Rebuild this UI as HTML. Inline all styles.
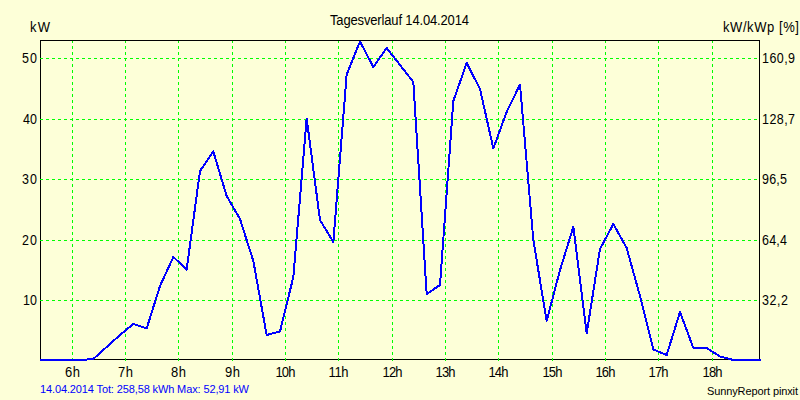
<!DOCTYPE html>
<html><head><meta charset="utf-8"><style>
html,body{margin:0;padding:0;background:#FDFFD8;}
svg{display:block;}
</style></head><body>
<svg width="800" height="400" viewBox="0 0 800 400">
<rect x="0" y="0" width="800" height="400" fill="#FDFFD8"/>
<rect x="40.5" y="40.5" width="719" height="319" fill="none" stroke="#000" stroke-width="1" shape-rendering="crispEdges"/>
<g stroke="#00FF00" stroke-width="1" stroke-dasharray="3 3" shape-rendering="crispEdges"><line x1="40" y1="58.5" x2="759" y2="58.5"/><line x1="40" y1="119.5" x2="759" y2="119.5"/><line x1="40" y1="179.5" x2="759" y2="179.5"/><line x1="40" y1="240.5" x2="759" y2="240.5"/><line x1="40" y1="300.5" x2="759" y2="300.5"/><line x1="72.5" y1="361" x2="72.5" y2="41"/><line x1="125.5" y1="361" x2="125.5" y2="41"/><line x1="178.5" y1="361" x2="178.5" y2="41"/><line x1="232.5" y1="361" x2="232.5" y2="41"/><line x1="285.5" y1="361" x2="285.5" y2="41"/><line x1="338.5" y1="361" x2="338.5" y2="41"/><line x1="392.5" y1="361" x2="392.5" y2="41"/><line x1="445.5" y1="361" x2="445.5" y2="41"/><line x1="498.5" y1="361" x2="498.5" y2="41"/><line x1="552.5" y1="361" x2="552.5" y2="41"/><line x1="605.5" y1="361" x2="605.5" y2="41"/><line x1="658.5" y1="361" x2="658.5" y2="41"/><line x1="712.5" y1="361" x2="712.5" y2="41"/></g>
<polyline points="40.00,360 53.33,360 66.67,360 80.00,360 93.33,359 106.67,347 120.00,335 133.33,324 146.67,328.5 160.00,286 173.33,257 186.67,269.5 200.00,171 213.33,151.5 226.67,196 240.00,219 253.33,261 266.67,335 280.00,331.5 293.33,277 306.67,118.5 320.00,220 333.33,242 346.67,74.5 360.00,41.5 373.33,67 386.67,48 400.00,65 413.33,82 426.67,294 440.00,285 453.33,101 466.67,63 480.00,89 493.33,148.5 506.67,112 520.00,84.5 533.33,240 546.67,321 560.00,270 573.33,227 586.67,333.5 600.00,249 613.33,224 626.67,248 640.00,296 653.33,349.5 666.67,355 680.00,312 693.33,348 706.67,348 720.00,356.5 733.33,360 746.67,360 761.00,360" fill="none" stroke="#0000FF" stroke-width="2" stroke-linejoin="round" stroke-linecap="butt" shape-rendering="crispEdges"/>
<g font-family='"Liberation Sans", sans-serif'>
<text x="330.00" y="25" font-size="13" text-anchor="start" fill="#000" textLength="139.00" lengthAdjust="spacing" transform="translate(0,25) scale(1,1.08) translate(0,-25)">Tagesverlauf 14.04.2014</text>
<text x="30.00" y="32" font-size="13" text-anchor="start" fill="#000" textLength="20.00" lengthAdjust="spacing" transform="translate(0,32) scale(1,1.08) translate(0,-32)">kW</text>
<text x="723.00" y="32" font-size="13" text-anchor="start" fill="#000" textLength="76.00" lengthAdjust="spacing" transform="translate(0,32) scale(1,1.08) translate(0,-32)">kW/kWp [%]</text>
<text x="22.00" y="63" font-size="12.5" text-anchor="start" fill="#000" textLength="15.00" lengthAdjust="spacing" transform="translate(0,63) scale(1,1.12) translate(0,-63)">50</text>
<text x="23.00" y="124" font-size="12.5" text-anchor="start" fill="#000" textLength="14.00" lengthAdjust="spacing" transform="translate(0,124) scale(1,1.12) translate(0,-124)">40</text>
<text x="22.00" y="184" font-size="12.5" text-anchor="start" fill="#000" textLength="15.00" lengthAdjust="spacing" transform="translate(0,184) scale(1,1.12) translate(0,-184)">30</text>
<text x="22.00" y="245" font-size="12.5" text-anchor="start" fill="#000" textLength="15.00" lengthAdjust="spacing" transform="translate(0,245) scale(1,1.12) translate(0,-245)">20</text>
<text x="23.00" y="305" font-size="12.5" text-anchor="start" fill="#000" textLength="14.00" lengthAdjust="spacing" transform="translate(0,305) scale(1,1.12) translate(0,-305)">10</text>
<text x="762.00" y="63" font-size="12.5" text-anchor="start" fill="#000" textLength="33.00" lengthAdjust="spacing" transform="translate(0,63) scale(1,1.12) translate(0,-63)">160,9</text>
<text x="762.00" y="124" font-size="12.5" text-anchor="start" fill="#000" textLength="33.00" lengthAdjust="spacing" transform="translate(0,124) scale(1,1.12) translate(0,-124)">128,7</text>
<text x="762.00" y="184" font-size="12.5" text-anchor="start" fill="#000" textLength="25.00" lengthAdjust="spacing" transform="translate(0,184) scale(1,1.12) translate(0,-184)">96,5</text>
<text x="762.00" y="245" font-size="12.5" text-anchor="start" fill="#000" textLength="25.00" lengthAdjust="spacing" transform="translate(0,245) scale(1,1.12) translate(0,-245)">64,4</text>
<text x="762.00" y="305" font-size="12.5" text-anchor="start" fill="#000" textLength="26.00" lengthAdjust="spacing" transform="translate(0,305) scale(1,1.12) translate(0,-305)">32,2</text>
<text x="72.50" y="377" font-size="13" text-anchor="middle" fill="#000" textLength="15.00" lengthAdjust="spacing" transform="translate(0,377) scale(1,1.08) translate(0,-377)">6h</text>
<text x="125.50" y="377" font-size="13" text-anchor="middle" fill="#000" textLength="15.00" lengthAdjust="spacing" transform="translate(0,377) scale(1,1.08) translate(0,-377)">7h</text>
<text x="178.50" y="377" font-size="13" text-anchor="middle" fill="#000" textLength="15.00" lengthAdjust="spacing" transform="translate(0,377) scale(1,1.08) translate(0,-377)">8h</text>
<text x="232.50" y="377" font-size="13" text-anchor="middle" fill="#000" textLength="15.00" lengthAdjust="spacing" transform="translate(0,377) scale(1,1.08) translate(0,-377)">9h</text>
<text x="285.50" y="377" font-size="13" text-anchor="middle" fill="#000" textLength="20.00" lengthAdjust="spacing" transform="translate(0,377) scale(1,1.08) translate(0,-377)">10h</text>
<text x="338.50" y="377" font-size="13" text-anchor="middle" fill="#000" textLength="20.00" lengthAdjust="spacing" transform="translate(0,377) scale(1,1.08) translate(0,-377)">11h</text>
<text x="392.50" y="377" font-size="13" text-anchor="middle" fill="#000" textLength="20.00" lengthAdjust="spacing" transform="translate(0,377) scale(1,1.08) translate(0,-377)">12h</text>
<text x="445.50" y="377" font-size="13" text-anchor="middle" fill="#000" textLength="20.00" lengthAdjust="spacing" transform="translate(0,377) scale(1,1.08) translate(0,-377)">13h</text>
<text x="498.50" y="377" font-size="13" text-anchor="middle" fill="#000" textLength="20.00" lengthAdjust="spacing" transform="translate(0,377) scale(1,1.08) translate(0,-377)">14h</text>
<text x="552.50" y="377" font-size="13" text-anchor="middle" fill="#000" textLength="20.00" lengthAdjust="spacing" transform="translate(0,377) scale(1,1.08) translate(0,-377)">15h</text>
<text x="605.50" y="377" font-size="13" text-anchor="middle" fill="#000" textLength="20.00" lengthAdjust="spacing" transform="translate(0,377) scale(1,1.08) translate(0,-377)">16h</text>
<text x="658.50" y="377" font-size="13" text-anchor="middle" fill="#000" textLength="20.00" lengthAdjust="spacing" transform="translate(0,377) scale(1,1.08) translate(0,-377)">17h</text>
<text x="712.50" y="377" font-size="13" text-anchor="middle" fill="#000" textLength="20.00" lengthAdjust="spacing" transform="translate(0,377) scale(1,1.08) translate(0,-377)">18h</text>
<text x="40.00" y="393" font-size="11" text-anchor="start" fill="#0000FF" textLength="209.00" lengthAdjust="spacing">14.04.2014 Tot: 258,58 kWh Max: 52,91 kW</text>
<text x="707.00" y="395" font-size="11" text-anchor="start" fill="#000" textLength="91.00" lengthAdjust="spacing">SunnyReport pinxit</text>
</g>
</svg>
</body></html>
